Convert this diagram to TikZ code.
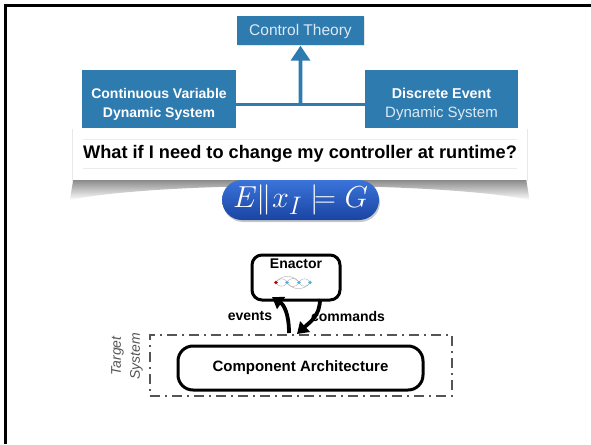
\documentclass[tikz,border=0pt]{standalone}
\usepackage{graphicx}
\usepackage{fontspec}
\setmainfont{Liberation Sans}
\usetikzlibrary{arrows.meta,shadows,calc,fadings}

\definecolor{slideblue}{HTML}{2E7BB0}
\definecolor{paletext}{HTML}{DCE9F3}
\definecolor{pilltop}{HTML}{3B74DA}
\definecolor{pillbot}{HTML}{1A44A2}
\definecolor{frameline}{HTML}{555555}

\tikzset{
  bluebox/.style={fill=slideblue, text=white, inner sep=0pt, align=center,
    font=\fontsize{15}{19}\selectfont},
  banner/.style={fill=white, inner sep=0pt,
    font=\bfseries\fontsize{18.2}{21}\selectfont},
  pill/.style={rounded corners=20pt, top color=pilltop, bottom color=pillbot,
    text=white, inner sep=0pt, font=\fontsize{24.88}{28}\selectfont},
  roundbox/.style={draw=black, line width=3pt, fill=white, inner sep=0pt},
  flowarrow/.style={line width=3.8pt, -{Triangle[width=14pt,length=11pt]}},
  flowlabel/.style={font=\bfseries\fontsize{14}{16}\selectfont},
  graphdot/.style={circle, inner sep=0pt, minimum size=3.6pt},
  graphedge/.style={draw=gray!70, line width=0.35pt}
}

\begin{document}
\begin{tikzpicture}[x=1pt, y=-1pt]
  \useasboundingbox (0,0) rectangle (591,444);

  % slide frame
  \draw[line width=3pt] (5.5,444) -- (5.5,5.5) -- (591,5.5);

  % theory hierarchy
  \node[bluebox, minimum width=127pt, minimum height=29pt, text=paletext,
        font=\fontsize{15.5}{19}\selectfont,
        drop shadow={opacity=0.2, shadow xshift=1pt, shadow yshift=-1pt}]
        (ct) at (300.5,31) {Control Theory};
  \node[bluebox, minimum width=154pt, minimum height=68pt, font=\bfseries\fontsize{14}{19}\selectfont]
        (cv) at (159,104) {Continuous Variable\\Dynamic System};
  \node[bluebox, minimum width=153pt, minimum height=68pt]
        (de) at (441.5,104) {{\bfseries\fontsize{14.3}{19}\selectfont Discrete Event}\\\color{paletext}Dynamic System};
  \draw[slideblue, line width=3pt] (cv.east) -- (de.west);
  \coordinate (join) at ($(cv.east)!0.5!(de.west)$);
  \draw[slideblue, line width=3.6pt, -{Triangle[width=19pt,length=15pt]}] (join) -- (ct.south);

  % question banner with curled shadow
  \fill[black, opacity=0.55, path fading=south]
    (74,176) -- (526,176) -- (530,200) .. controls (440,181) and (160,181) .. (70,200) -- cycle;
  \node[banner, minimum width=454pt, minimum height=52pt,
        drop shadow={opacity=0.18, shadow xshift=0pt, shadow yshift=-1pt, shadow scale=1.005}]
        (q) at (300,154) {What if I need to change my controller at runtime?};
  \draw[gray!15, line width=0.6pt] ($(q.north west)+(10,11)$) -- ($(q.north east)+(-10,11)$);
  \draw[gray!15, line width=0.6pt] ($(q.south west)+(10,-12)$) -- ($(q.south east)+(-10,-12)$);

  % synthesis formula
  \fill[black, opacity=0.22, rounded corners=20pt] (223,183) rectangle (380,222);
  \node[pill, minimum width=157pt, minimum height=40pt] (f) at (300.5,200)
        {\scalebox{1.22}{$E\|x_I\models G$}};

  % target system
  \node[draw=frameline, line width=2.5pt, dash pattern=on 10pt off 5pt on 2pt off 5pt,
        minimum width=302pt, minimum height=61pt, inner sep=0pt] (ts) at (301,365.5) {};
  \node[roundbox, rounded corners=15pt, minimum width=245pt, minimum height=44pt,
        font=\bfseries\fontsize{15}{17}\selectfont] (ca) at (300.5,368) {Component Architecture};
  \node[rotate=90, align=center, text=frameline, font=\itshape\fontsize{14}{19}\selectfont]
        (tsl) at (127,356) {Target\\System};

  % enactor
  \node[roundbox, rounded corners=10pt, minimum width=88pt, minimum height=45pt] (en) at (296,277.5) {};
  \node[font=\bfseries\fontsize{14}{16}\selectfont, anchor=north, inner sep=0pt] (enl) at ($(en.north)+(0,5)$) {Enactor};

  % small state graph inside the enactor
  \node[graphdot, fill=red!75!black] (g0) at (276,282.5) {};
  \node[graphdot, fill=cyan!80!blue!70] (g1) at (287,282.5) {};
  \node[graphdot, fill=cyan!80!blue!70] (g2) at (299,282.5) {};
  \node[graphdot, fill=cyan!80!blue!70] (g3) at (310,282.5) {};
  \foreach \a/\b in {g0/g1, g1/g2, g2/g3} {
    \draw[graphedge] (\a) to[bend left=55] (\b);
    \draw[graphedge] (\a) to[bend right=55] (\b);
  }
  \draw[graphedge] (g0) to[bend left=50] (g2);
  \draw[graphedge] (g1) to[bend right=50] (g3);

  % events and commands
  \coordinate (evsrc) at (289,333);
  \coordinate (evdst) at (272,297);
  \coordinate (cmsrc) at (320,299);
  \coordinate (cmdst) at (297,334);
  \draw[flowarrow] (evsrc) .. controls (289,314) and (284,305) .. (evdst);
  \draw[flowarrow] (cmsrc) .. controls (320,316) and (310,322) .. (cmdst);
  \node[flowlabel] (evl) at (250,316) {events};
  \node[flowlabel] (cml) at (348,316) {commands};
\end{tikzpicture}
\end{document}
